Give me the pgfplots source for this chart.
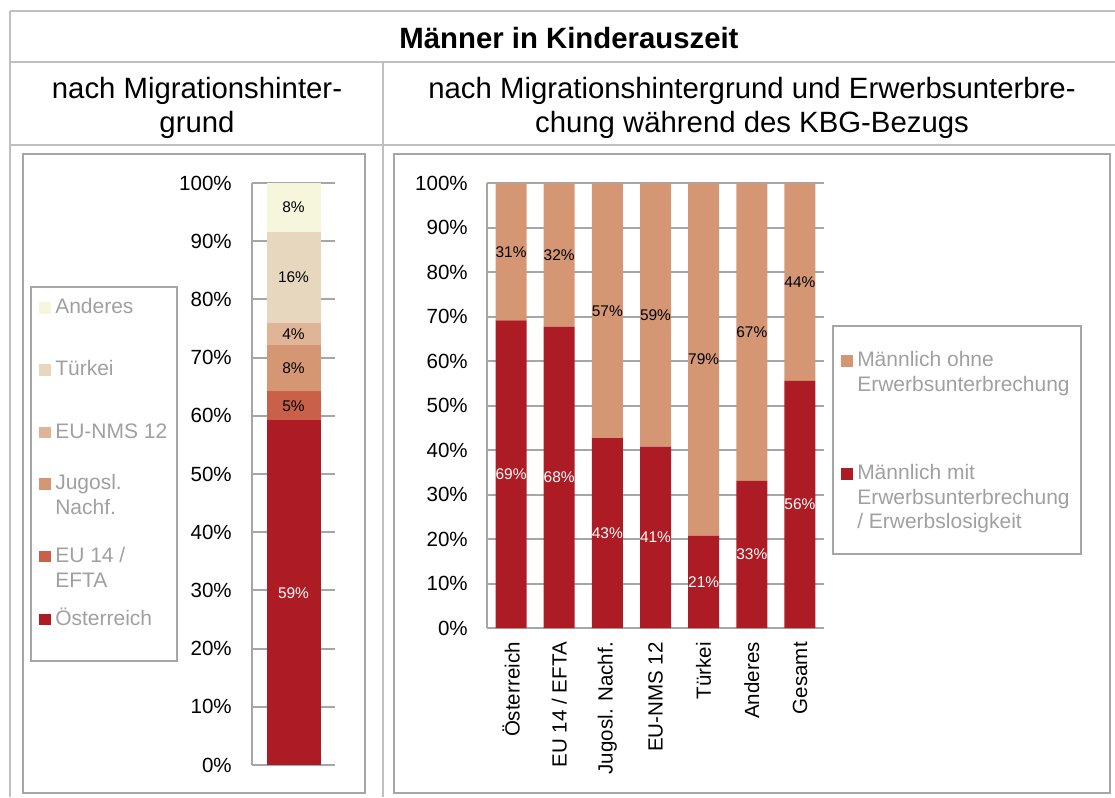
\documentclass[border=0pt]{standalone}
\usepackage{pgfplots}
\pgfplotsset{compat=1.18}
\usepackage{fontspec}
\setmainfont{Liberation Sans}
\definecolor{cOst}{HTML}{AD1C24}
\definecolor{cEU}{HTML}{C8604A}
\definecolor{cJug}{HTML}{D59673}
\definecolor{cNMS}{HTML}{E0B496}
\definecolor{cTur}{HTML}{E6D7BE}
\definecolor{cAnd}{HTML}{F5F6DC}
\definecolor{gridc}{HTML}{A6A6A6}
\definecolor{tablec}{HTML}{BFBFBF}
\definecolor{legtext}{HTML}{A0A0A0}
\newcommand\tickfont{\fontsize{15.4}{18}\selectfont}
\newcommand\legfont{\fontsize{15.75}{18.4}\selectfont}
\newcommand\lblfont{\fontsize{11.6}{13.5}\selectfont}
\newcommand\headfont{\fontsize{22}{25.5}\selectfont}
% legend entry: coloured square on the first baseline, text lines top aligned, depth smashed
\newcommand\lgt[3][0pt]{\raisebox{#1}[\height][0pt]{\textcolor{#2}{\rule{8.6pt}{8.6pt}}\hspace{3.4pt}\begin{tabular}[t]{@{}l@{}}#3\end{tabular}}}
\pgfplotsset{
  panel/.style={
    scale only axis, anchor=south west,
    ymin=0, ymax=100, ytick={0,10,...,100},
    yticklabel={\pgfmathprintnumber{\tick}\%},
    /pgf/number format/assume math mode=true,
    axis x line*=bottom, axis y line*=left,
    axis line style={gridc, line width=1.5pt},
    ymajorgrids, grid style={gridc, line width=1.5pt},
    major tick length=0pt, tick style={draw=none},
    yticklabel style={font=\tickfont, inner sep=0pt, anchor=east},
  },
  lbl/.style={
    scale only axis, anchor=south west, hide axis,
    ymin=0, ymax=100,
  },
  noimg/.style={
    every axis plot post/.append style={legend image code/.code={}}
  },
}
\begin{document}
\begin{tikzpicture}[x=0.75pt,y=0.75pt]
\useasboundingbox (0,0) rectangle (1115,797);
\coordinate (L) at (252,32);
\coordinate (R) at (487,169);
% table lines
\draw[tablec, line width=1.5pt] (10,786) -- (1115,786);
\draw[tablec, line width=1.5pt] (10,735) -- (1115,735);
\draw[tablec, line width=1.5pt] (10,652) -- (1115,652);
\draw[tablec, line width=1.5pt] (10,786) -- (10,0);
\draw[tablec, line width=1.5pt] (383,735) -- (383,0);
% headers
\node[font=\headfont\bfseries] at (569,759) {Männer in Kinderauszeit};
\node[font=\headfont, align=center] at (197,689) {nach Migrationshinter-\\grund};
\node[font=\headfont, align=center] at (752,689) {nach Migrationshintergrund und Erwerbsunterbre-\\chung während des KBG-Bezugs};
% frames
\draw[gridc, line width=2pt] (23,4) rectangle (365,643);
\draw[gridc, line width=2pt] (394,4) rectangle (1110,643);
\draw[gridc, line width=2pt] (31,136) rectangle (177,510);
\draw[gridc, line width=2pt] (833,243) rectangle (1081,471);

% left chart
\begin{axis}[panel, at={(L)}, width=62.25pt, height=436.5pt,
  xmin=-0.5, xmax=0.5, xtick=\empty,
  yticklabel style={xshift=-15pt},
  ybar stacked, bar width=40.5pt, noimg,
  reverse legend, legend cell align=left,
  legend style={at={(-2.566,0.8057)}, anchor=north west, draw=none, fill=none,
    inner sep=0pt, row sep=33.8pt, column sep=0pt,
    nodes={inner sep=0pt, text depth=0pt, text=legtext, font=\legfont}},
]
\addplot[fill=cOst, draw=none] coordinates {(0,59.2)};
\addlegendentry{\lgt{cOst}{Österreich}}
\addplot[fill=cEU, draw=none] coordinates {(0,5.0)};
\addlegendentry{\lgt{cEU}{EU 14 /\\EFTA}}
\addplot[fill=cJug, draw=none] coordinates {(0,8.0)};
\addlegendentry{\lgt[8pt]{cJug}{Jugosl.\\Nachf.}}
\addplot[fill=cNMS, draw=none] coordinates {(0,3.7)};
\addlegendentry{\lgt{cNMS}{EU-NMS 12}}
\addplot[fill=cTur, draw=none] coordinates {(0,15.7)};
\addlegendentry{\lgt{cTur}{Türkei}}
\addplot[fill=cAnd, draw=none] coordinates {(0,8.4)};
\addlegendentry{\lgt{cAnd}{Anderes}}
\end{axis}
\begin{axis}[lbl, at={(L)}, width=62.25pt, height=436.5pt,
  xmin=-0.5, xmax=0.5]
\addplot[draw=none, mark=none, nodes near coords, point meta=explicit symbolic,
  nodes near coords align={center}, every node near coord/.append style={font=\lblfont, text=white}]
  coordinates {(0,29.6) [59\%]};
\addplot[draw=none, mark=none, nodes near coords, point meta=explicit symbolic,
  nodes near coords align={center}, every node near coord/.append style={font=\lblfont, text=black}]
  coordinates {(0,61.7) [5\%] (0,68.2) [8\%] (0,74.05) [4\%] (0,83.75) [16\%] (0,95.8) [8\%]};
\end{axis}

% right chart
\begin{axis}[panel, at={(R)}, width=252.75pt, height=333.5pt,
  xmin=-0.5, xmax=6.5, xtick={0,...,6},
  xticklabels={Österreich, EU 14 / EFTA, Jugosl. Nachf., EU-NMS 12, Türkei, Anderes, Gesamt},
  xticklabel style={rotate=90, anchor=east, inner sep=0pt, font=\tickfont},
  xticklabel shift=10.5pt,
  yticklabel style={xshift=-14.25pt},
  ybar stacked, bar width=23.25pt, noimg,
  reverse legend, legend cell align=left,
  legend style={at={(1.0504,0.627)}, anchor=north west, draw=none, fill=none,
    inner sep=0pt, row sep=71.9pt, column sep=0pt,
    nodes={inner sep=0pt, text depth=0pt, text=legtext, font=\legfont}},
]
\addplot[fill=cOst, draw=none] coordinates {(0,69.2) (1,67.8) (2,42.7) (3,40.8) (4,20.8) (5,33.1) (6,55.6)};
\addlegendentry{\lgt{cOst}{Männlich mit\\Erwerbsunterbrechung\\/ Erwerbslosigkeit}}
\addplot[fill=cJug, draw=none] coordinates {(0,30.8) (1,32.2) (2,57.3) (3,59.2) (4,79.2) (5,66.9) (6,44.4)};
\addlegendentry{\lgt{cJug}{Männlich ohne\\Erwerbsunterbrechung}}
\end{axis}
\begin{axis}[lbl, at={(R)}, width=252.75pt, height=333.5pt,
  xmin=-0.5, xmax=6.5]
\addplot[draw=none, mark=none, nodes near coords, point meta=explicit symbolic,
  nodes near coords align={center}, every node near coord/.append style={font=\lblfont, text=white}]
  coordinates {(0,34.6) [69\%] (1,33.9) [68\%] (2,21.35) [43\%] (3,20.4) [41\%] (4,10.4) [21\%] (5,16.55) [33\%] (6,27.8) [56\%]};
\addplot[draw=none, mark=none, nodes near coords, point meta=explicit symbolic,
  nodes near coords align={center}, every node near coord/.append style={font=\lblfont, text=black}]
  coordinates {(0,84.6) [31\%] (1,83.9) [32\%] (2,71.35) [57\%] (3,70.4) [59\%] (4,60.4) [79\%] (5,66.55) [67\%] (6,77.8) [44\%]};
\end{axis}
\end{tikzpicture}
\end{document}
